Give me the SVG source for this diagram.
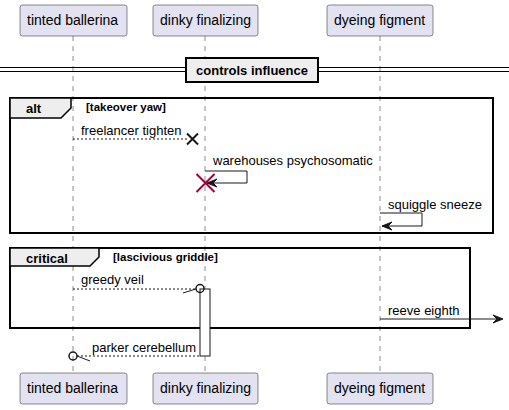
<svg xmlns="http://www.w3.org/2000/svg" width="509" height="410" viewBox="0 0 509 410">
<style>
.p{fill:#E2E2F0;stroke:#181818;stroke-width:0.5}
.pt{font-family:"Liberation Sans",Arial,sans-serif;font-size:14px;fill:#000}
.life{stroke:#181818;stroke-width:0.5;stroke-dasharray:5,5}
.m{font-family:"Liberation Sans",Arial,sans-serif;font-size:13px;fill:#000}
.b{font-family:"Liberation Sans",Arial,sans-serif;font-weight:bold;fill:#000}
.frame{fill:none;stroke:#000;stroke-width:2}
.tab{fill:#EEEEEE;stroke:#000;stroke-width:1.5}
.ln{stroke:#181818;stroke-width:1;fill:none}
.dl{stroke:#181818;stroke-width:1;fill:none;stroke-dasharray:2,2}
.ah{fill:#181818;stroke:#181818;stroke-width:1}
</style>
<g id="lifelines">
<line class="life" x1="73" y1="36" x2="73" y2="373"/>
<line class="life" x1="205" y1="36" x2="205" y2="373"/>
<line class="life" x1="380" y1="36" x2="380" y2="373"/>
</g>
<g id="tinted-ballerina">
<rect class="p" x="20" y="5" width="107" height="31" rx="2.5"/>
<text class="pt" x="27" y="25">tinted ballerina</text>
<rect class="p" x="20" y="373" width="107" height="31" rx="2.5"/>
<text class="pt" x="27" y="393">tinted ballerina</text>
</g>
<g id="dinky-finalizing">
<rect class="p" x="153" y="5" width="105" height="31" rx="2.5"/>
<text class="pt" x="160" y="25">dinky finalizing</text>
<rect class="p" x="153" y="373" width="105" height="31" rx="2.5"/>
<text class="pt" x="160" y="393">dinky finalizing</text>
</g>
<g id="dyeing-figment">
<rect class="p" x="327" y="5" width="106" height="31" rx="2.5"/>
<text class="pt" x="334" y="25">dyeing figment</text>
<rect class="p" x="327" y="373" width="106" height="31" rx="2.5"/>
<text class="pt" x="334" y="393">dyeing figment</text>
</g>
<g id="divider">
<line x1="0" y1="67.5" x2="509" y2="67.5" stroke="#000" stroke-width="1"/>
<line x1="0" y1="71.5" x2="509" y2="71.5" stroke="#000" stroke-width="1"/>
<rect x="186" y="58" width="132" height="24" fill="#EEEEEE" stroke="#000" stroke-width="2"/>
<text class="b" x="252" y="75" font-size="13" text-anchor="middle">controls influence</text>
</g>
<g id="alt-frame">
<rect class="frame" x="10" y="98" width="483" height="135"/>
<path class="tab" d="M10,98 H71 V108 L61,118 H10 Z"/>
<text class="b" x="26" y="113" font-size="13">alt</text>
<text class="b" x="86" y="111" font-size="11.5">[takeover yaw]</text>
</g>
<g id="critical-frame">
<rect class="frame" x="10" y="248" width="460" height="80"/>
<path class="tab" d="M10,248 H99 V257 L90,266 H10 Z"/>
<text class="b" x="26" y="263" font-size="13">critical</text>
<text class="b" x="113" y="261" font-size="11.5">[lascivious griddle]</text>
</g>
<g id="activation">
<rect x="200" y="289" width="10" height="67" fill="#fff" stroke="#181818" stroke-width="1"/>
</g>
<g id="connectors">
<line class="dl" x1="73" y1="139" x2="188" y2="139"/>
<path d="M187,133.5 L198,144.5 M187,144.5 L198,133.5" stroke="#181818" stroke-width="2"/>
<text class="m" x="81" y="135">freelancer tighten</text>

<path class="ln" d="M205,171 H247 V183 H207"/>
<polygon class="ah" points="207,183 217,179 213,183 217,187"/>
<path d="M196.5,174 L214.5,192 M196.5,192 L214.5,174" stroke="#A80036" stroke-width="2"/>
<text class="m" x="213" y="165">warehouses psychosomatic</text>

<path class="ln" d="M380,213 H422 V226 H382"/>
<polygon class="ah" points="382,226 392,222 388,226 392,230"/>
<text class="m" x="388" y="209">squiggle sneeze</text>

<line class="dl" x1="73" y1="289" x2="196" y2="289"/>
<line class="ln" x1="183" y1="293" x2="196" y2="289"/>
<circle cx="200" cy="288.5" r="4" fill="none" stroke="#181818" stroke-width="1.5"/>
<text class="m" x="81" y="284">greedy veil</text>

<line class="ln" x1="380" y1="319" x2="500" y2="319"/>
<polygon class="ah" points="503,319 493,315 497,319 493,323"/>
<text class="m" x="388" y="315">reeve eighth</text>

<line class="dl" x1="77" y1="356" x2="200" y2="356"/>
<line class="ln" x1="77" y1="356" x2="90" y2="361"/>
<circle cx="73" cy="356" r="4" fill="none" stroke="#181818" stroke-width="1.5"/>
<text class="m" x="92" y="352">parker cerebellum</text>
</g>
</svg>
